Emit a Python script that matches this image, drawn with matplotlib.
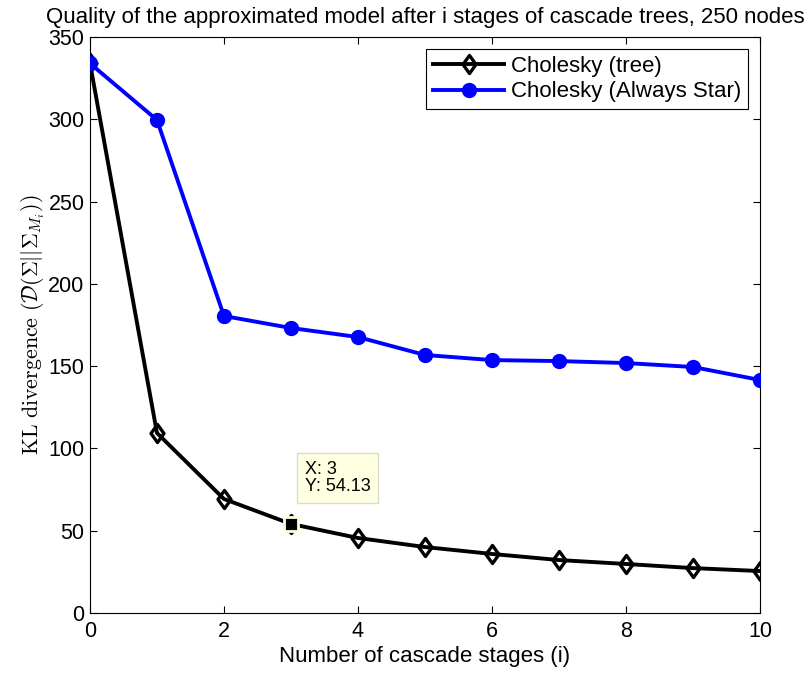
import matplotlib
matplotlib.use("Agg")
import matplotlib.pyplot as plt
from matplotlib.path import Path

plt.rcParams['font.family'] = ['Liberation Sans', 'DejaVu Sans']
plt.rcParams['mathtext.fontset'] = 'cm'

stages = [0, 1, 2, 3, 4, 5, 6, 7, 8, 9, 10]
kl_tree = [334.2, 109.4, 69.3, 54.13, 45.6, 40.1, 35.9, 32.2, 29.8, 27.3, 25.5]
kl_star = [334.0, 299.6, 180.5, 173.2, 167.7, 156.8, 153.7, 153.1, 151.9, 149.5, 141.6]
xticks = [0, 2, 4, 6, 8, 10]
yticks = [0, 50, 100, 150, 200, 250, 300, 350]

# slightly tall diamond outline
diamond = Path([(0, 1), (0.72, 0), (0, -1), (-0.72, 0), (0, 1)],
               [Path.MOVETO, Path.LINETO, Path.LINETO, Path.LINETO, Path.CLOSEPOLY])

fig = plt.figure(figsize=(8.09, 6.77), dpi=100)
ax = fig.add_axes([0.1112, 0.0945, 0.8282, 0.8508])

ax.plot(stages, kl_tree, color='black', lw=2.8, marker=diamond, markersize=13,
        markerfacecolor='none', markeredgecolor='black', markeredgewidth=2.4,
        label='Cholesky (tree)', zorder=3)
ax.plot(stages, kl_star, color='blue', lw=2.8, marker='o', markersize=10,
        markerfacecolor='blue', markeredgecolor='blue',
        label='Cholesky (Always Star)', zorder=3)

# data cursor at stage 3 of the tree curve
tip_x, tip_y = stages[3], kl_tree[3]
ax.plot([tip_x], [tip_y], marker='s', markersize=9.5, color='black',
        markeredgecolor='#ffffe1', markeredgewidth=2, zorder=5, clip_on=False)
ax.text(tip_x + 0.21, tip_y + 38.5, f"X: {tip_x}\nY: {tip_y:.2f}", fontsize=13,
        va='top', ha='left', linespacing=1.05, zorder=6,
        bbox=dict(boxstyle='square,pad=0.42', facecolor='#ffffe1',
                  edgecolor='#dcdccc', linewidth=1))

ax.set_xlim(0, 10)
ax.set_ylim(0, 350)
ax.set_xticks(xticks)
ax.set_yticks(yticks)
ax.tick_params(direction='in', top=True, right=True, length=5, width=0.8,
               labelsize=15.5, pad=5.5)
ax.tick_params(axis='y', pad=4)
for s in ax.spines.values():
    s.set_linewidth(0.8)

ax.set_title('Quality of the approximated model after i stages of cascade trees, 250 nodes',
             fontsize=16, pad=10)
ax.set_xlabel('Number of cascade stages (i)', fontsize=16, labelpad=3)
ax.set_ylabel(r'$\mathrm{KL\ divergence\ }(\mathcal{D}(\Sigma||\Sigma_{M_i}))$',
              fontsize=15.8, labelpad=1)

leg = ax.legend(loc='upper right', fontsize=16, frameon=True, fancybox=False,
                edgecolor='black', framealpha=1, handlelength=3.2,
                borderaxespad=0.55, borderpad=0.3, labelspacing=0.2,
                handletextpad=0.3)
leg.get_frame().set_linewidth(0.8)

fig.savefig('out.png', dpi=100)
